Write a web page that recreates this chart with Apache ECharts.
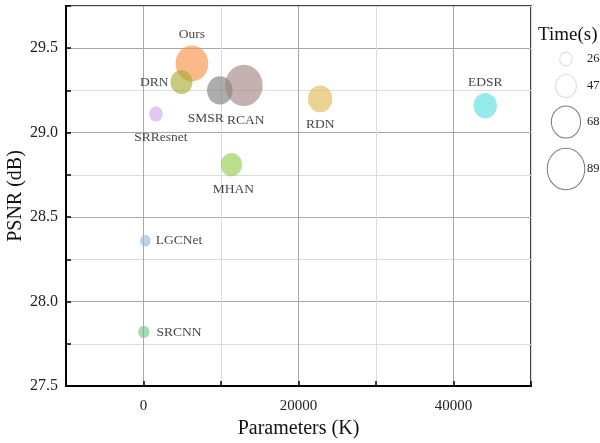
<!DOCTYPE html>
<html>
<head>
<meta charset="utf-8">
<script src="https://cdn.jsdelivr.net/npm/echarts@6/dist/echarts.min.js"></script>
<style>
  html, body { margin: 0; padding: 0; background: #fff; }
  #chart { width: 600px; height: 443px; }
</style>
</head>
<body>
<div id="chart"></div>
<script>
// Super-resolution methods: model size vs. PSNR, bubble size = inference time
const methods  = ['Ours', 'DRN', 'SMSR', 'RCAN', 'SRResnet', 'MHAN', 'RDN', 'EDSR', 'LGCNet', 'SRCNN'];
const paramsK  = [6250, 4900, 9850, 12950, 1600, 11350, 22800, 44100, 230, 40];
const psnrDb   = [29.41, 29.30, 29.25, 29.28, 29.11, 28.81, 29.20, 29.16, 28.36, 27.82];
const timeSec  = [77, 50, 59, 89, 29, 48, 56, 53, 22, 23];
const timeLegendValues = [26, 47, 68, 89];
const xLabelled = [0, 20000, 40000];
const yLabelled = [27.5, 28.0, 28.5, 29.0, 29.5];

// styling
const FONT = 'Liberation Serif';
const bubbleColors = [
  'rgba(248,142,66,0.78)',  // Ours
  'rgba(168,168,50,0.78)',  // DRN
  'rgba(118,118,118,0.75)', // SMSR
  'rgba(160,125,125,0.75)', // RCAN
  'rgba(210,165,236,0.78)', // SRResnet
  'rgba(146,204,70,0.78)',  // MHAN
  'rgba(224,184,84,0.78)',  // RDN
  'rgba(92,222,224,0.8)',   // EDSR
  'rgba(146,184,224,0.78)', // LGCNet
  'rgba(108,198,140,0.78)'  // SRCNN
];
const labelPlacement = [
  { position: 'top', distance: 4 },
  { position: 'left', distance: 2 },
  { position: 'bottom', distance: 7, offset: [-14, 0] },
  { position: 'bottom', distance: 7, offset: [2, 0] },
  { position: 'bottom', distance: 9, offset: [5, 0] },
  { position: 'bottom', distance: 6, offset: [2, 0] },
  { position: 'bottom', distance: 5 },
  { position: 'top', distance: 3 },
  { position: 'right', distance: 5 },
  { position: 'right', distance: 7 }
];
const STRETCH = 1.1;
function bubbleWidth(t) { return 0.4 * t + 2; }

const chart = echarts.init(document.getElementById('chart'), null, { renderer: 'canvas' });

const data = methods.map((name, i) => ({
  name: name,
  value: [paramsK[i], psnrDb[i], timeSec[i]],
  itemStyle: { color: bubbleColors[i] },
  label: Object.assign({
    show: true,
    formatter: name,
    fontFamily: FONT,
    fontSize: 13.5,
    color: '#111'
  }, labelPlacement[i])
}));

// bubble-size key on the right
const legendYs = [59, 86, 122, 169];
const legendStrokes = ['#dcdcdc', '#dcdcdc', '#7a7a7a', '#7a7a7a'];
const legendGraphics = [{
  type: 'text', left: 538, top: 26,
  style: { text: 'Time(s)', font: '19px ' + FONT, fill: '#111' }
}];
timeLegendValues.forEach((t, i) => {
  const r = bubbleWidth(t) / 2;
  legendGraphics.push({
    type: 'circle',
    x: 566, y: legendYs[i], scaleY: STRETCH,
    shape: { cx: 0, cy: 0, r: r },
    style: { fill: 'none', stroke: legendStrokes[i], lineWidth: 1 }
  });
  legendGraphics.push({
    type: 'text', x: 587, y: legendYs[i],
    style: { text: String(t), font: '12.5px ' + FONT, fill: '#222', verticalAlign: 'middle', align: 'left' }
  });
});

chart.setOption({
  animation: false,
  backgroundColor: '#fff',
  grid: {
    left: 66, right: 69, top: 6, bottom: 57,
    containLabel: false,
    outerBoundsMode: 'none',
    show: true, borderColor: '#000', borderWidth: 1.5
  },
  xAxis: {
    type: 'value',
    min: -10000, max: 50000, interval: 10000,
    name: 'Parameters (K)',
    nameLocation: 'middle', nameGap: 30,
    nameTextStyle: { fontFamily: FONT, fontSize: 20, color: '#111' },
    axisLine: { show: true, onZero: false, lineStyle: { color: '#000', width: 2 } },
    axisTick: { show: true, inside: true, length: 5, lineStyle: { color: '#000', width: 1.5 } },
    axisLabel: {
      margin: 13, fontFamily: FONT, fontSize: 15, color: '#222',
      formatter: v => xLabelled.indexOf(v) >= 0 ? String(v) : ''
    },
    splitLine: {
      show: true, showMinLine: true, showMaxLine: true,
      lineStyle: { color: ['#dcdcdc', '#a8a8a8'], width: 1 }
    }
  },
  yAxis: {
    type: 'value',
    min: 27.5, max: 29.75, interval: 0.25,
    name: 'PSNR (dB)',
    nameLocation: 'middle', nameGap: 40,
    nameMoveOverlap: false,
    nameTextStyle: { fontFamily: FONT, fontSize: 20, color: '#111' },
    axisLine: { show: true, onZero: false, lineStyle: { color: '#000', width: 2 } },
    axisTick: { show: true, inside: true, length: 5, lineStyle: { color: '#000', width: 1.5 } },
    axisLabel: {
      margin: 8, fontFamily: FONT, fontSize: 16, color: '#222',
      formatter: v => yLabelled.some(y => Math.abs(y - v) < 1e-6) ? v.toFixed(1) : ''
    },
    splitLine: {
      show: true, showMinLine: true, showMaxLine: true,
      lineStyle: { color: ['#a8a8a8', '#dcdcdc'], width: 1 }
    }
  },
  series: [{
    type: 'scatter',
    data: data,
    symbol: 'circle',
    symbolSize: v => [bubbleWidth(v[2]), bubbleWidth(v[2]) * STRETCH],
    itemStyle: { borderWidth: 0 },
    emphasis: { disabled: true }
  }],
  graphic: legendGraphics
});
</script>
</body>
</html>
